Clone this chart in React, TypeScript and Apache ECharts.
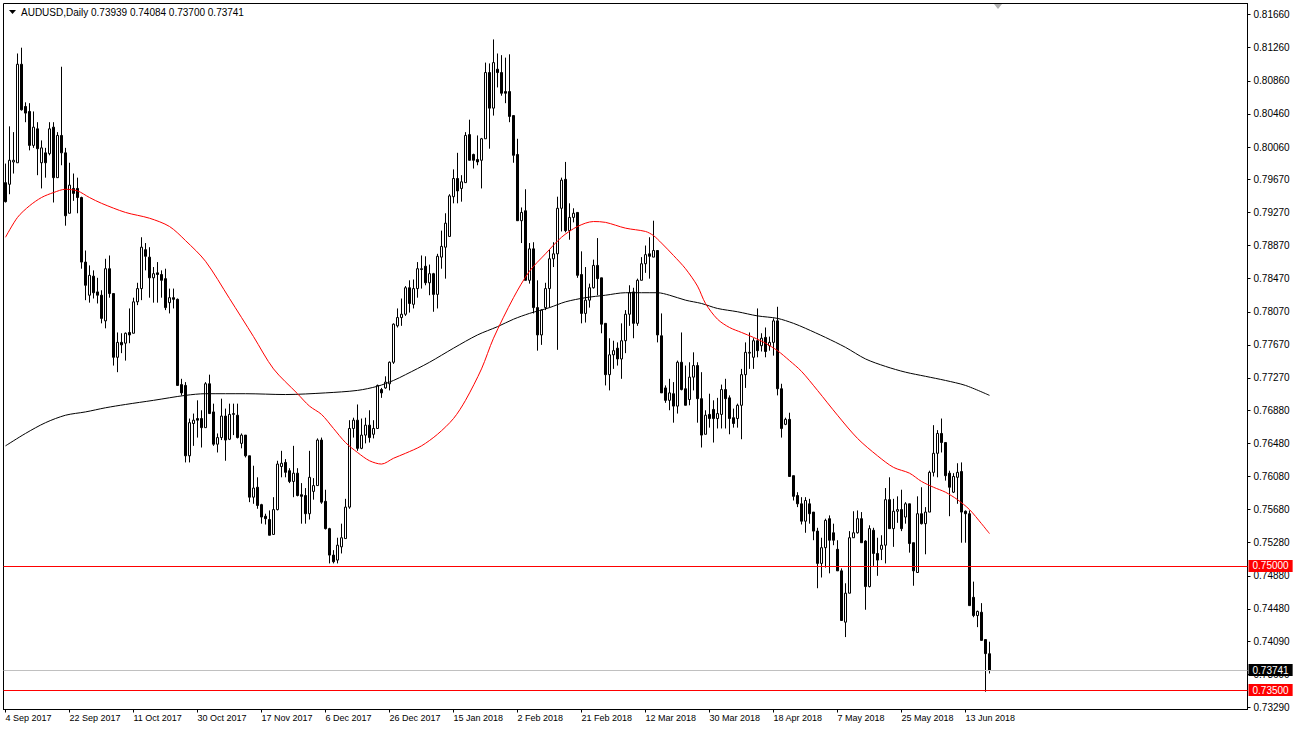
import React, { useEffect, useRef } from "react";
import * as echarts from "echarts";

// [open, close, low, high] for each daily bar
const candles: number[][] = [
  [0.7963, 0.7940, 0.7939, 0.7986], [0.7961, 0.7990, 0.7949, 0.8031], [0.7988, 0.7990, 0.7974, 0.8024], [0.7987, 0.8106, 0.7987, 0.8119],
  [0.8106, 0.8051, 0.8050, 0.8126], [0.8055, 0.8047, 0.8036, 0.8060], [0.8049, 0.8008, 0.8002, 0.8059], [0.8008, 0.8030, 0.8005, 0.8049],
  [0.8028, 0.8004, 0.7972, 0.8036], [0.7987, 0.8005, 0.7956, 0.8014], [0.7999, 0.7987, 0.7969, 0.8005], [0.7998, 0.8028, 0.7996, 0.8036],
  [0.8030, 0.7969, 0.7939, 0.8036], [0.7969, 0.8020, 0.7969, 0.8024], [0.8020, 0.7999, 0.7984, 0.8103], [0.7999, 0.7923, 0.7911, 0.8005],
  [0.7926, 0.7960, 0.7926, 0.7987], [0.7956, 0.7950, 0.7941, 0.7974], [0.7956, 0.7945, 0.7926, 0.7969], [0.7945, 0.7867, 0.7859, 0.7946],
  [0.7867, 0.7839, 0.7821, 0.7881], [0.7827, 0.7851, 0.7818, 0.7863], [0.7850, 0.7830, 0.7823, 0.7857], [0.7831, 0.7827, 0.7817, 0.7848],
  [0.7827, 0.7799, 0.7793, 0.7833], [0.7796, 0.7859, 0.7787, 0.7871], [0.7859, 0.7829, 0.7824, 0.7875], [0.7829, 0.7752, 0.7742, 0.7829],
  [0.7752, 0.7770, 0.7734, 0.7782], [0.7770, 0.7767, 0.7757, 0.7781], [0.7769, 0.7781, 0.7748, 0.7782], [0.7782, 0.7779, 0.7769, 0.7811],
  [0.7781, 0.7819, 0.7781, 0.7824], [0.7819, 0.7835, 0.7815, 0.7842], [0.7835, 0.7885, 0.7821, 0.7897], [0.7882, 0.7874, 0.7857, 0.7890],
  [0.7873, 0.7848, 0.7824, 0.7885], [0.7848, 0.7853, 0.7818, 0.7861], [0.7854, 0.7852, 0.7818, 0.7867], [0.7852, 0.7845, 0.7824, 0.7857],
  [0.7847, 0.7812, 0.7809, 0.7859], [0.7818, 0.7824, 0.7805, 0.7835], [0.7824, 0.7822, 0.7811, 0.7835], [0.7822, 0.7718, 0.7718, 0.7823],
  [0.7719, 0.7709, 0.7706, 0.7726], [0.7718, 0.7633, 0.7625, 0.7722], [0.7633, 0.7673, 0.7625, 0.7678], [0.7672, 0.7676, 0.7645, 0.7684],
  [0.7678, 0.7676, 0.7655, 0.7700], [0.7678, 0.7667, 0.7643, 0.7688], [0.7667, 0.7720, 0.7667, 0.7722], [0.7720, 0.7684, 0.7684, 0.7731],
  [0.7686, 0.7647, 0.7645, 0.7696], [0.7647, 0.7655, 0.7637, 0.7660], [0.7655, 0.7681, 0.7652, 0.7702], [0.7681, 0.7652, 0.7627, 0.7690],
  [0.7653, 0.7683, 0.7652, 0.7696], [0.7683, 0.7684, 0.7658, 0.7696], [0.7682, 0.7655, 0.7654, 0.7696], [0.7648, 0.7658, 0.7642, 0.7660],
  [0.7658, 0.7633, 0.7631, 0.7658], [0.7633, 0.7583, 0.7577, 0.7633], [0.7583, 0.7594, 0.7575, 0.7621], [0.7595, 0.7573, 0.7569, 0.7607],
  [0.7574, 0.7559, 0.7551, 0.7575], [0.7560, 0.7557, 0.7550, 0.7563], [0.7556, 0.7537, 0.7537, 0.7567], [0.7538, 0.7568, 0.7538, 0.7583],
  [0.7568, 0.7623, 0.7567, 0.7627], [0.7620, 0.7624, 0.7607, 0.7639], [0.7625, 0.7613, 0.7607, 0.7629], [0.7615, 0.7602, 0.7600, 0.7618],
  [0.7602, 0.7612, 0.7583, 0.7645], [0.7612, 0.7585, 0.7584, 0.7618], [0.7586, 0.7584, 0.7551, 0.7600], [0.7585, 0.7563, 0.7551, 0.7594],
  [0.7563, 0.7607, 0.7556, 0.7639], [0.7590, 0.7597, 0.7580, 0.7606], [0.7597, 0.7652, 0.7597, 0.7654], [0.7652, 0.7577, 0.7575, 0.7655],
  [0.7578, 0.7545, 0.7544, 0.7592], [0.7545, 0.7513, 0.7503, 0.7546], [0.7513, 0.7505, 0.7503, 0.7519], [0.7507, 0.7525, 0.7503, 0.7534],
  [0.7523, 0.7534, 0.7515, 0.7551], [0.7533, 0.7571, 0.7533, 0.7581], [0.7571, 0.7666, 0.7569, 0.7676], [0.7666, 0.7676, 0.7655, 0.7679],
  [0.7676, 0.7642, 0.7639, 0.7695], [0.7642, 0.7658, 0.7641, 0.7678], [0.7658, 0.7670, 0.7648, 0.7679], [0.7670, 0.7655, 0.7649, 0.7688],
  [0.7659, 0.7666, 0.7654, 0.7676], [0.7666, 0.7718, 0.7666, 0.7719], [0.7713, 0.7709, 0.7703, 0.7715], [0.7715, 0.7722, 0.7714, 0.7729],
  [0.7720, 0.7746, 0.7712, 0.7747], [0.7746, 0.7792, 0.7744, 0.7793], [0.7790, 0.7800, 0.7788, 0.7811], [0.7800, 0.7804, 0.7790, 0.7823],
  [0.7804, 0.7836, 0.7802, 0.7838], [0.7836, 0.7817, 0.7806, 0.7845], [0.7816, 0.7835, 0.7811, 0.7846], [0.7835, 0.7859, 0.7824, 0.7867],
  [0.7858, 0.7859, 0.7835, 0.7875], [0.7862, 0.7842, 0.7839, 0.7874], [0.7842, 0.7853, 0.7827, 0.7864], [0.7853, 0.7828, 0.7807, 0.7854],
  [0.7828, 0.7874, 0.7811, 0.7877], [0.7873, 0.7886, 0.7859, 0.7905], [0.7885, 0.7914, 0.7847, 0.7926], [0.7898, 0.7947, 0.7898, 0.7949],
  [0.7946, 0.7968, 0.7938, 0.7979], [0.7968, 0.7953, 0.7938, 0.7999], [0.7956, 0.7964, 0.7940, 0.7972], [0.7963, 0.8020, 0.7963, 0.8024],
  [0.8021, 0.7990, 0.7990, 0.8039], [0.7997, 0.7990, 0.7980, 0.7998], [0.7991, 0.7988, 0.7984, 0.8020], [0.7990, 0.8016, 0.7956, 0.8017],
  [0.8016, 0.8096, 0.8016, 0.8108], [0.8096, 0.8053, 0.8004, 0.8107], [0.8053, 0.8108, 0.8044, 0.8136], [0.8100, 0.8096, 0.8078, 0.8119],
  [0.8096, 0.8071, 0.8068, 0.8117], [0.8073, 0.8071, 0.8059, 0.8114], [0.8073, 0.8043, 0.8036, 0.8118], [0.8044, 0.7996, 0.7987, 0.8044],
  [0.7997, 0.7917, 0.7917, 0.8016], [0.7917, 0.7927, 0.7890, 0.7933], [0.7929, 0.7845, 0.7845, 0.7955], [0.7845, 0.7883, 0.7841, 0.7890],
  [0.7883, 0.7812, 0.7805, 0.7891], [0.7812, 0.7779, 0.7760, 0.7845], [0.7779, 0.7809, 0.7767, 0.7810], [0.7812, 0.7835, 0.7809, 0.7842],
  [0.7835, 0.7871, 0.7812, 0.7882], [0.7871, 0.7877, 0.7861, 0.7891], [0.7877, 0.7932, 0.7761, 0.7946], [0.7932, 0.7966, 0.7904, 0.7969],
  [0.7967, 0.7905, 0.7903, 0.7988], [0.7905, 0.7921, 0.7894, 0.7938], [0.7921, 0.7926, 0.7915, 0.7932], [0.7927, 0.7851, 0.7848, 0.7927],
  [0.7852, 0.7805, 0.7793, 0.7880], [0.7805, 0.7821, 0.7794, 0.7861], [0.7821, 0.7836, 0.7812, 0.7841], [0.7836, 0.7863, 0.7835, 0.7870],
  [0.7863, 0.7847, 0.7827, 0.7896], [0.7848, 0.7792, 0.7781, 0.7848], [0.7793, 0.7731, 0.7718, 0.7793], [0.7731, 0.7755, 0.7712, 0.7775],
  [0.7755, 0.7760, 0.7738, 0.7772], [0.7763, 0.7750, 0.7742, 0.7770], [0.7750, 0.7772, 0.7726, 0.7793], [0.7772, 0.7804, 0.7757, 0.7809],
  [0.7804, 0.7830, 0.7790, 0.7839], [0.7831, 0.7793, 0.7775, 0.7836], [0.7793, 0.7845, 0.7790, 0.7847], [0.7845, 0.7865, 0.7845, 0.7873],
  [0.7865, 0.7876, 0.7854, 0.7887], [0.7877, 0.7874, 0.7847, 0.7897], [0.7873, 0.7881, 0.7873, 0.7917], [0.7881, 0.7779, 0.7770, 0.7881],
  [0.7778, 0.7709, 0.7709, 0.7805], [0.7715, 0.7700, 0.7697, 0.7718], [0.7700, 0.7709, 0.7688, 0.7726], [0.7708, 0.7693, 0.7673, 0.7722],
  [0.7693, 0.7746, 0.7684, 0.7748], [0.7746, 0.7713, 0.7712, 0.7782], [0.7714, 0.7694, 0.7694, 0.7742], [0.7701, 0.7728, 0.7694, 0.7746],
  [0.7728, 0.7742, 0.7712, 0.7758], [0.7742, 0.7702, 0.7673, 0.7746], [0.7702, 0.7658, 0.7643, 0.7734], [0.7659, 0.7682, 0.7659, 0.7688],
  [0.7683, 0.7678, 0.7667, 0.7708], [0.7689, 0.7678, 0.7649, 0.7700], [0.7678, 0.7684, 0.7666, 0.7703], [0.7683, 0.7713, 0.7666, 0.7719],
  [0.7713, 0.7702, 0.7666, 0.7726], [0.7703, 0.7678, 0.7659, 0.7706], [0.7679, 0.7672, 0.7667, 0.7690], [0.7678, 0.7694, 0.7667, 0.7696],
  [0.7694, 0.7731, 0.7653, 0.7738], [0.7731, 0.7758, 0.7715, 0.7770], [0.7757, 0.7758, 0.7738, 0.7782], [0.7752, 0.7772, 0.7738, 0.7775],
  [0.7772, 0.7760, 0.7752, 0.7811], [0.7766, 0.7775, 0.7759, 0.7781], [0.7776, 0.7759, 0.7752, 0.7788], [0.7766, 0.7770, 0.7760, 0.7777],
  [0.7770, 0.7796, 0.7754, 0.7799], [0.7796, 0.7714, 0.7706, 0.7813], [0.7714, 0.7666, 0.7655, 0.7720], [0.7671, 0.7677, 0.7670, 0.7679],
  [0.7677, 0.7608, 0.7608, 0.7685], [0.7609, 0.7584, 0.7579, 0.7609], [0.7585, 0.7575, 0.7571, 0.7589], [0.7575, 0.7554, 0.7550, 0.7583],
  [0.7554, 0.7579, 0.7540, 0.7583], [0.7575, 0.7563, 0.7551, 0.7581], [0.7565, 0.7542, 0.7531, 0.7565], [0.7542, 0.7503, 0.7473, 0.7546],
  [0.7503, 0.7522, 0.7486, 0.7534], [0.7522, 0.7555, 0.7498, 0.7557], [0.7557, 0.7531, 0.7491, 0.7561], [0.7540, 0.7531, 0.7525, 0.7551],
  [0.7520, 0.7494, 0.7494, 0.7531], [0.7494, 0.7434, 0.7434, 0.7497], [0.7432, 0.7467, 0.7414, 0.7479], [0.7467, 0.7534, 0.7467, 0.7542],
  [0.7534, 0.7540, 0.7534, 0.7566], [0.7540, 0.7557, 0.7539, 0.7567], [0.7557, 0.7528, 0.7528, 0.7565], [0.7530, 0.7475, 0.7447, 0.7531],
  [0.7475, 0.7545, 0.7474, 0.7549], [0.7543, 0.7515, 0.7500, 0.7546], [0.7515, 0.7507, 0.7488, 0.7534], [0.7520, 0.7525, 0.7507, 0.7537],
  [0.7525, 0.7580, 0.7503, 0.7594], [0.7580, 0.7545, 0.7545, 0.7607], [0.7545, 0.7566, 0.7523, 0.7581], [0.7566, 0.7568, 0.7552, 0.7584],
  [0.7568, 0.7545, 0.7542, 0.7592], [0.7559, 0.7575, 0.7551, 0.7577], [0.7575, 0.7527, 0.7516, 0.7575], [0.7528, 0.7494, 0.7476, 0.7528],
  [0.7492, 0.7563, 0.7492, 0.7584], [0.7563, 0.7551, 0.7550, 0.7595], [0.7551, 0.7565, 0.7514, 0.7571], [0.7565, 0.7613, 0.7565, 0.7615],
  [0.7613, 0.7636, 0.7608, 0.7670], [0.7636, 0.7660, 0.7607, 0.7664], [0.7660, 0.7649, 0.7637, 0.7678], [0.7649, 0.7609, 0.7603, 0.7649],
  [0.7612, 0.7595, 0.7560, 0.7615], [0.7589, 0.7608, 0.7588, 0.7612], [0.7607, 0.7613, 0.7575, 0.7624], [0.7614, 0.7565, 0.7528, 0.7625],
  [0.7566, 0.7563, 0.7528, 0.7567], [0.7563, 0.7452, 0.7452, 0.7567], [0.7462, 0.7440, 0.7438, 0.7481], [0.7440, 0.7445, 0.7426, 0.7446],
  [0.7444, 0.7410, 0.7410, 0.7455], [0.7411, 0.7394, 0.7348, 0.7411], [0.73939, 0.73741, 0.737, 0.74084],
];

// moving averages, [bar index, value] read at sample points
const redMA: number[][] = [
  [0, 0.7897], [3, 0.7921], [6, 0.7935], [9, 0.7945], [12, 0.7951], [15, 0.7955], [18, 0.7953], [21, 0.7945], [24, 0.7938],
  [30, 0.7927], [36, 0.7920], [41, 0.7910], [45, 0.7893], [50, 0.7868], [56, 0.7823], [62, 0.7777], [67, 0.7738], [73, 0.7708],
  [76, 0.7693], [79, 0.7683], [82, 0.7666], [85, 0.7649], [88, 0.7637], [91, 0.7627], [94, 0.7623], [97, 0.7630], [100, 0.7636],
  [104, 0.7645], [108, 0.7659], [112, 0.7678], [115, 0.7700], [119, 0.7738], [122, 0.7775], [127, 0.7824], [131, 0.7856],
  [135, 0.7877], [139, 0.7897], [143, 0.7910], [147, 0.7916], [150, 0.7915], [155, 0.7908], [160, 0.7904], [162, 0.7899],
  [164, 0.7890], [167, 0.7875], [170, 0.7859], [173, 0.7838], [175, 0.7817], [178, 0.7798], [181, 0.7788], [184, 0.7782],
  [187, 0.7776], [190, 0.7769], [193, 0.7760], [196, 0.7748], [199, 0.7735], [203, 0.7712], [208, 0.7682], [213, 0.7654],
  [218, 0.7633], [222, 0.7619], [226, 0.7612], [229, 0.7602], [232, 0.7595], [235, 0.7589], [238, 0.7580], [241, 0.7568],
  [244, 0.7551], [246, 0.7539],
];
const blackMA: number[][] = [
  [0, 0.7645], [5, 0.7660], [10, 0.7673], [15, 0.7682], [20, 0.7686], [25, 0.7691], [30, 0.7695], [37, 0.7700], [45, 0.7706],
  [50, 0.7708], [60, 0.7708], [70, 0.7707], [80, 0.7709], [88, 0.7712], [93, 0.7717], [97, 0.7724], [100, 0.7731], [106, 0.7746],
  [112, 0.7763], [118, 0.7779], [123, 0.7789], [127, 0.7798], [131, 0.7805], [136, 0.7812], [140, 0.7819], [145, 0.7824],
  [150, 0.7827], [155, 0.7830], [163, 0.7830], [166, 0.7827], [170, 0.7821], [174, 0.7817], [178, 0.7811], [183, 0.7807],
  [188, 0.7802], [193, 0.7799], [197, 0.7793], [200, 0.7787], [205, 0.7776], [210, 0.7764], [215, 0.7750], [220, 0.7741],
  [225, 0.7734], [230, 0.7729], [235, 0.7724], [240, 0.7718], [246, 0.7706],
];

const yTickLabels = [
  "0.81660", "0.81260", "0.80860", "0.80460", "0.80060", "0.79670", "0.79270", "0.78870", "0.78470", "0.78070", "0.77670",
  "0.77270", "0.76880", "0.76480", "0.76080", "0.75680", "0.75280", "0.74880", "0.74480", "0.74090", "0.73690", "0.73290",
];
const xTickLabels = [
  "4 Sep 2017", "22 Sep 2017", "11 Oct 2017", "30 Oct 2017", "17 Nov 2017", "6 Dec 2017", "26 Dec 2017", "15 Jan 2018",
  "2 Feb 2018", "21 Feb 2018", "12 Mar 2018", "30 Mar 2018", "18 Apr 2018", "7 May 2018", "25 May 2018", "13 Jun 2018",
];
const levelValues = [0.75, 0.735, 0.73741];
const levelLabels = ["0.75000", "0.73500", "0.73741"];
const levelLineColors = ["#ff0000", "#ff0000", "#c0c0c0"];
const levelBoxColors = ["#ff0000", "#ff0000", "#000000"];
const headerText = "AUDUSD,Daily 0.73939 0.74084 0.73700 0.73741";

const MONTHS = ["Jan", "Feb", "Mar", "Apr", "May", "Jun", "Jul", "Aug", "Sep", "Oct", "Nov", "Dec"];
const HOLIDAYS = ["2017-12-25", "2018-01-01"];
const TOTAL_SLOTS = 311;
const LABEL_STEP = 16;

function buildCategories(): string[] {
  const out: string[] = [];
  const d = new Date(Date.UTC(2017, 8, 4));
  while (out.length < TOTAL_SLOTS) {
    const key = d.toISOString().slice(0, 10);
    if (d.getUTCDay() !== 6 && HOLIDAYS.indexOf(key) < 0) {
      out.push(`${d.getUTCDate()} ${MONTHS[d.getUTCMonth()]} ${d.getUTCFullYear()}`);
    }
    d.setUTCDate(d.getUTCDate() + 1);
  }
  return out;
}

const FONT = "'Liberation Sans', Arial, sans-serif";

export default function App() {
  const ref = useRef<HTMLDivElement>(null);
  useEffect(() => {
    if (!ref.current) return;
    const chart = echarts.init(ref.current, null, { renderer: "svg" });
    const categories = buildCategories();
    const yTickValues = yTickLabels.map(Number);
    const showTick = (i: number) => i % LABEL_STEP === 0 && i < candles.length;

    chart.setOption({
      animation: false,
      backgroundColor: "#ffffff",
      grid: { left: 3.5, right: 46.5, top: 3.5, bottom: 22.5, show: true, borderColor: "#000", borderWidth: 1, backgroundColor: "#fff" },
      xAxis: {
        type: "category",
        data: categories,
        boundaryGap: true,
        axisLine: { show: true, lineStyle: { color: "#000", width: 1 } },
        axisTick: { show: true, alignWithLabel: true, interval: showTick, length: 3, lineStyle: { color: "#000" } },
        axisLabel: {
          interval: showTick,
          formatter: (_v: string, i: number) => xTickLabels[Math.round(i / LABEL_STEP)] ?? "",
          align: "left",
          margin: 4,
          color: "#000",
          fontSize: 9,
          fontFamily: FONT,
        },
        splitLine: { show: false },
      },
      yAxis: {
        type: "value",
        position: "right",
        min: 0.73265,
        max: 0.81794,
        axisLine: { show: true, lineStyle: { color: "#000", width: 1 } },
        axisTick: { show: true, length: 3, customValues: yTickValues, lineStyle: { color: "#000" } },
        axisLabel: {
          customValues: yTickValues,
          formatter: (v: number) => {
            let best = 0;
            yTickValues.forEach((t, k) => { if (Math.abs(t - v) < Math.abs(yTickValues[best] - v)) best = k; });
            return yTickLabels[best];
          },
          margin: 6,
          color: "#000",
          fontSize: 10,
          fontFamily: FONT,
        },
        splitLine: { show: false },
      },
      series: [
        {
          type: "candlestick",
          data: candles,
          barWidth: 2,
          z: 2,
          itemStyle: { color: "#ffffff", color0: "#000000", borderColor: "#000000", borderColor0: "#000000", borderWidth: 1 },
        },
        {
          type: "line",
          data: blackMA,
          showSymbol: false,
          smooth: 0.3,
          lineStyle: { color: "#000000", width: 1 },
          z: 3,
        },
        {
          type: "line",
          data: redMA,
          showSymbol: false,
          smooth: 0.3,
          lineStyle: { color: "#ff0000", width: 1 },
          z: 4,
          markLine: {
            silent: true,
            symbol: ["none", "none"],
            precision: 5,
            animation: false,
            data: levelValues.map((v, k) => ({
              yAxis: v,
              lineStyle: { color: levelLineColors[k], width: 1, type: "solid" },
              label: {
                show: true,
                position: "end",
                distance: 1,
                formatter: levelLabels[k],
                backgroundColor: levelBoxColors[k],
                color: "#ffffff",
                padding: [1, 4, 1, 4],
                fontSize: 10,
                fontFamily: FONT,
              },
            })),
          },
        },
      ],
      graphic: [
        { type: "polygon", shape: { points: [[9, 10], [16, 10], [12.5, 14]] }, style: { fill: "#000" }, z: 10 },
        { type: "text", left: 21, top: 7, style: { text: headerText, font: `10px ${FONT}`, fill: "#000" }, z: 10 },
        { type: "polygon", shape: { points: [[994, 4], [1002, 4], [998, 9]] }, style: { fill: "#b0b0b0" }, z: 10 },
      ],
    });
    return () => chart.dispose();
  }, []);
  return <div ref={ref} style={{ position: "absolute", left: 0, top: 0, width: 1294, height: 732, background: "#fff" }} />;
}
